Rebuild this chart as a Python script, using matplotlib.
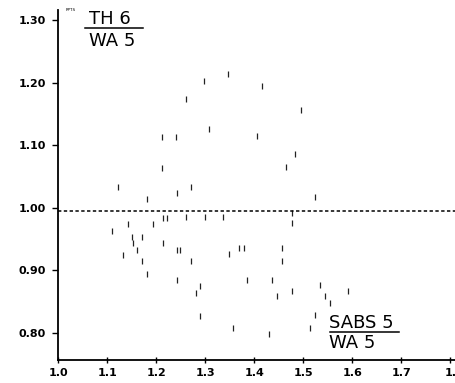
import matplotlib
matplotlib.use('Agg')
import matplotlib.pyplot as plt

# ratio values (x: SABS5/WA5, y: TH6/WA5)
x_vals = [1.122, 1.182, 1.211, 1.240, 1.211, 1.261, 1.298, 1.346, 1.415, 1.308,
          1.405, 1.242, 1.271, 1.464, 1.495, 1.484, 1.524,
          1.142, 1.110, 1.150, 1.170, 1.152, 1.160, 1.133, 1.170, 1.182, 1.193,
          1.213, 1.221, 1.261, 1.299, 1.337, 1.476, 1.476, 1.213, 1.242, 1.248,
          1.270, 1.349, 1.369, 1.378, 1.456, 1.456, 1.242, 1.289, 1.281, 1.386,
          1.436, 1.476, 1.447, 1.534, 1.544, 1.554, 1.592, 1.289, 1.524, 1.357,
          1.429, 1.514]
y_vals = [1.033, 1.013, 1.113, 1.113, 1.063, 1.174, 1.203, 1.214, 1.194, 1.125,
          1.115, 1.023, 1.033, 1.065, 1.156, 1.085, 1.017,
          0.974, 0.963, 0.953, 0.953, 0.943, 0.933, 0.924, 0.915, 0.894, 0.974,
          0.983, 0.983, 0.985, 0.985, 0.985, 0.992, 0.975, 0.944, 0.933, 0.933,
          0.915, 0.926, 0.935, 0.935, 0.935, 0.915, 0.885, 0.875, 0.864, 0.885,
          0.885, 0.867, 0.858, 0.876, 0.859, 0.848, 0.867, 0.826, 0.828, 0.807,
          0.798, 0.808]
ref_level = 0.994

x_ticks = [1.0, 1.1, 1.2, 1.3, 1.4, 1.5, 1.6, 1.7, 1.8]
x_labels = ['1.0', '1.1', '1.2', '1.3', '1.4', '1.5', '1.6', '1.7', '1.']
y_ticks = [0.80, 0.90, 1.00, 1.10, 1.20, 1.30]
y_labels = ['0.80', '0.90', '1.00', '1.10', '1.20', '1.30']

W, H = 456, 383
fig = plt.figure(figsize=(W / 100, H / 100), dpi=100)
left, right, bottom, top = 58.3, 456, 360, 10
ax = fig.add_axes([left / W, 1 - bottom / H, (right - left) / W, (bottom - top) / H])

ax.plot(x_vals, y_vals, lw=0, marker='|', ms=4.3, mew=0.9, color='#222222')
ax.axhline(ref_level, color='black', lw=1.1, ls=(0, (2.2, 1.6)))

ax.set_xlim(1.0, 1.0 + (right - left) / 490)
ax.set_ylim(1.30 - (bottom - 20) / 625.4, 1.30 + (20 - top) / 625.4)

for s in ['top', 'right']:
    ax.spines[s].set_visible(False)
for s in ['left', 'bottom']:
    ax.spines[s].set_linewidth(1.3)

ax.set_xticks(x_ticks)
ax.set_xticklabels(x_labels, fontweight='bold', fontsize=8)
ax.set_yticks(y_ticks)
ax.set_yticklabels(y_labels, fontweight='bold', fontsize=8)
ax.tick_params(axis='y', direction='out', length=4, width=1, pad=5)
ax.tick_params(axis='x', direction='inout', length=5, width=1, pad=3)


def px(x, y):
    return x / W, 1 - y / H


# fraction labels (pixel positions of baselines)
fig.text(*px(89, 24.5), 'TH 6', fontsize=13, ha='left', va='baseline')
ax.plot([85, 143], [H - 28, H - 28], transform=None, color='black', lw=1.1)
fig.text(*px(89, 45.5), 'WA 5', fontsize=13, ha='left', va='baseline')
fig.text(*px(66, 11), 'PPTS', fontsize=3, ha='left', va='baseline')

fig.text(*px(329, 327.5), 'SABS 5', fontsize=13, ha='left', va='baseline')
ax.plot([330, 399], [H - 331.5, H - 331.5], transform=None, color='black', lw=1.1)
fig.text(*px(329, 348.5), 'WA 5', fontsize=13, ha='left', va='baseline')

fig.savefig('out.png', dpi=100)
